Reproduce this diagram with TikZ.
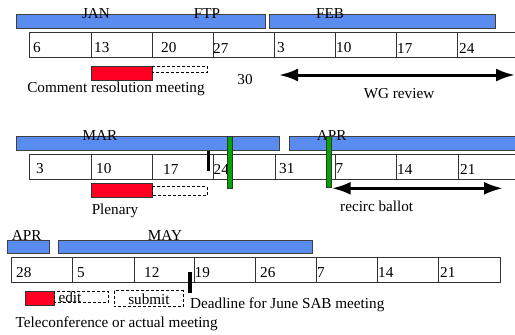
\documentclass[tikz,border=0pt]{standalone}
\usepackage{fontspec}
\setmainfont{Liberation Serif}
\usetikzlibrary{arrows.meta}
\definecolor{barblue}{RGB}{90,140,240}
\definecolor{mred}{RGB}{255,0,34}
\definecolor{mgreen}{RGB}{0,165,0}
\begin{document}
\begin{tikzpicture}[x=1pt,y=-1pt,
  month/.style={draw=black!75,fill=barblue,line width=0.8pt},
  cell/.style={draw=black!80,line width=0.8pt},
  lbl/.style={inner sep=0pt,font=\fontsize{15.2}{17}\selectfont},
  num/.style={lbl,anchor=west},
  meet/.style={draw=black!80,fill=mred,line width=0.6pt},
  tbd/.style={draw=black,densely dashed,line width=0.6pt},
  greenbar/.style={draw=black!80,fill=mgreen,line width=0.5pt},
  dl/.style={fill=black,draw=none},
  spanarrow/.style={draw=black,line width=3pt,{Latex[length=19pt,width=13pt]}-{Latex[length=19pt,width=13pt]}}]
\useasboundingbox (0,0) rectangle (515,335);
% ---------- row 1 ----------
\draw[month] (16,14) rectangle (265.5,28.7);
\draw[month] (269,14) rectangle (495.5,28.7);
\foreach \a/\b in {29.7/91.7,91.7/152.3,152.3/213.3,213.3/274.3,274.3/335.7,335.7/396,396/457.7,457.7/520}
  \draw[cell] (\a,32.3) rectangle (\b,57.3);
\node[num] (n1a) at (33,48) {6};
\node[num] (n1b) at (94,48) {13};
\node[num] (n1c) at (161,48) {20};
\node[num] (n1d) at (213,48) {27};
\node[num] (n1e) at (277,48) {3};
\node[num] (n1f) at (336,48) {10};
\node[num] (n1g) at (397,48) {17};
\node[num] (n1h) at (459,48) {24};
\node[lbl] (jan) at (96,14) {JAN};
\node[lbl] (ftp) at (207,14) {FTP};
\node[lbl] (feb) at (330,14) {FEB};
\draw[meet] (91.7,66.3) rectangle (152.3,80.3);
\draw[tbd] (152.3,66) rectangle (207.3,72.5);
\node[lbl] (crm) at (116,89) {Comment resolution meeting};
\node[lbl] (d30) at (245,80) {30};
\coordinate (wga) at (279,75);
\coordinate (wgb) at (515,75);
\draw[spanarrow] (wga) -- (wgb);
\node[lbl] (wg) at (399,94) {WG review};
% ---------- row 2 ----------
\draw[month] (16,136) rectangle (279,150.7);
\draw[month] (289,136) rectangle (520,150.7);
\foreach \a/\b in {29.7/91.7,91.7/152.3,152.3/213.3,213.3/275,275/335,335/396,396/458.3,458.3/520}
  \draw[cell] (\a,154.3) rectangle (\b,179.3);
\node[num] (n2a) at (36,169) {3};
\node[num] (n2b) at (96,169) {10};
\node[num] (n2c) at (163,169) {17};
\node[num] (n2d) at (213.5,169) {24};
\node[num] (n2e) at (279,169) {31};
\node[num] (n2f) at (335.5,169) {7};
\node[num] (n2g) at (397,169) {14};
\node[num] (n2h) at (460,169) {21};
\node[lbl] (mar) at (100,135) {MAR};
\node[lbl] (apr) at (331.7,135) {APR};
\fill[dl] (206.7,151) rectangle (210.3,171);
\draw[greenbar] (227.3,136.7) rectangle (232.3,188.3);
\draw[greenbar] (326,136.7) rectangle (331.5,187.7);
\draw[meet] (91.7,183.3) rectangle (152.3,197.7);
\draw[tbd] (152.3,186.7) rectangle (207.3,195.7);
\node[lbl] (plen) at (115,210.7) {Plenary};
\coordinate (rca) at (331.7,188.3);
\coordinate (rcb) at (503,188.3);
\draw[spanarrow] (rca) -- (rcb);
\node[lbl] (rc) at (376.7,206.7) {recirc ballot};
% ---------- row 3 ----------
\draw[month] (7.3,240) rectangle (49.3,253.3);
\draw[month] (58.3,240) rectangle (312.3,253.3);
\foreach \a/\b in {11.7/72.7,72.7/134,134/194.3,194.3/255.7,255.7/316.7,316.7/377.7,377.7/438.7,438.7/500}
  \draw[cell] (\a,257.3) rectangle (\b,282.3);
\node[num] (n3a) at (16,272.7) {28};
\node[num] (n3b) at (77,272.7) {5};
\node[num] (n3c) at (144,272.7) {12};
\node[num] (n3d) at (194.5,272.7) {19};
\node[num] (n3e) at (260,272.7) {26};
\node[num] (n3f) at (317,272.7) {7};
\node[num] (n3g) at (378,272.7) {14};
\node[num] (n3h) at (440,272.7) {21};
\node[lbl] (apr2) at (26.7,235) {APR};
\node[lbl] (may) at (165,235) {MAY};
\fill[dl] (188.3,272.3) rectangle (191.9,293.3);
\draw[meet] (25,291) rectangle (54.3,305.7);
\node[lbl] (edit) at (70,297) {edit};
\draw[tbd] (54.3,291) rectangle (108.3,302.3);
\draw[tbd] (114.3,290.7) rectangle (183.3,306.7);
\node[lbl] (sub) at (149,299) {submit};
\node[lbl,anchor=west] (dead) at (190,305) {Deadline for June SAB meeting};
\node[lbl] (tele) at (116.7,323.3) {Teleconference or actual meeting};
\end{tikzpicture}
\end{document}
